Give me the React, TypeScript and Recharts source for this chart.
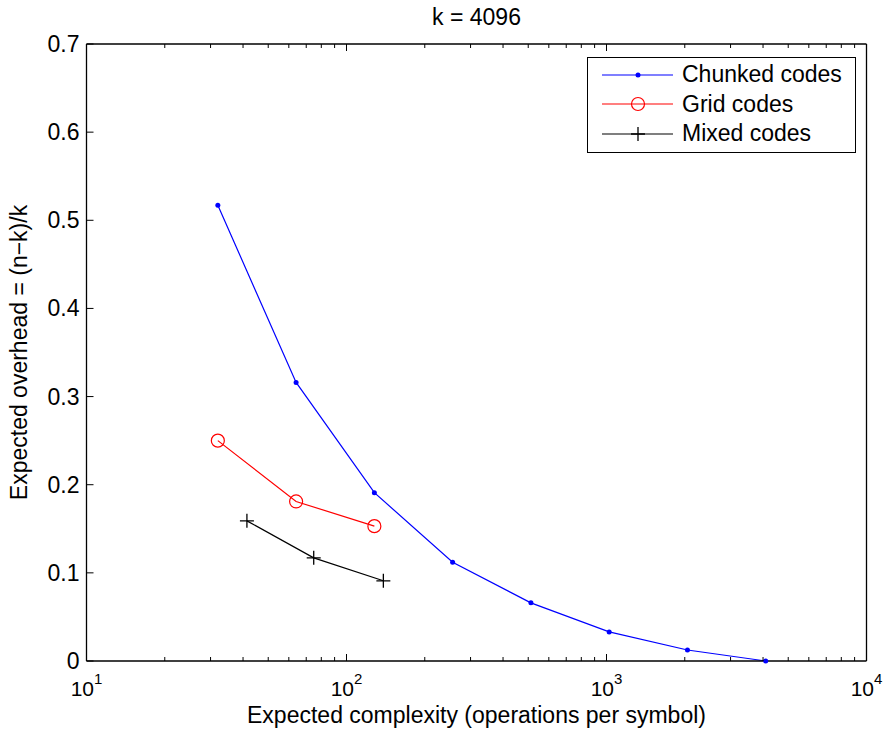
import React from "react";
import { LineChart, Line, XAxis, YAxis, Label, Legend } from "recharts";

const FONT = "'Liberation Sans', Arial, Helvetica, sans-serif";

// series values
const CHUNKED_X = [32, 64, 128, 256, 512, 1024, 2048, 4096];
const CHUNKED_Y = [0.517, 0.316, 0.191, 0.112, 0.066, 0.033, 0.0125, 0.0];
const GRID_X = [32, 64, 128];
const GRID_Y = [0.25, 0.181, 0.153];
const MIXED_X = [41.4, 74.8, 138.6];
const MIXED_Y = [0.159, 0.117, 0.091];

// axes
const X_MAJOR = [10, 100, 1000, 10000];
const X_EXPONENTS = ["1", "2", "3", "4"];
const X_TICKS = [
  10, 20, 30, 40, 50, 60, 70, 80, 90,
  100, 200, 300, 400, 500, 600, 700, 800, 900,
  1000, 2000, 3000, 4000, 5000, 6000, 7000, 8000, 9000,
  10000,
];
const Y_TICKS = [0, 0.1, 0.2, 0.3, 0.4, 0.5, 0.6, 0.7];
const Y_LABELS = ["0", "0.1", "0.2", "0.3", "0.4", "0.5", "0.6", "0.7"];

const TITLE = "k = 4096";
const X_LABEL = "Expected complexity (operations per symbol)";
const Y_LABEL = "Expected overhead = (n\u2212k)/k";

const toPoints = (xs: number[], ys: number[]) => xs.map((x, i) => ({ x, y: ys[i] }));

const SERIES = [
  { name: "Chunked codes", color: "#0000ff", marker: "dot", data: toPoints(CHUNKED_X, CHUNKED_Y) },
  { name: "Grid codes", color: "#ff0000", marker: "circle", data: toPoints(GRID_X, GRID_Y) },
  { name: "Mixed codes", color: "#000000", marker: "plus", data: toPoints(MIXED_X, MIXED_Y) },
];

function renderPlus(props: any) {
  const { cx, cy, index } = props;
  if (cx == null || cy == null) return <g key={`e-${index}`} />;
  return (
    <path
      key={`plus-${index}`}
      d={`M${cx - 7},${cy}H${cx + 7}M${cx},${cy - 7}V${cy + 7}`}
      stroke="#000"
      strokeWidth={1.3}
      fill="none"
    />
  );
}

function BottomTick(props: any) {
  const { x, y, payload } = props;
  const idx = X_MAJOR.indexOf(payload.value);
  const major = idx >= 0;
  return (
    <g>
      <line x1={x} y1={y} x2={x} y2={y - (major ? 7 : 4)} stroke="#000" strokeWidth={1} />
      {major && (
        <text x={x} y={y + 35} textAnchor="middle" fontFamily={FONT} fontSize={21} fill="#000">
          10
          <tspan dy={-12} fontSize={15}>{X_EXPONENTS[idx]}</tspan>
        </text>
      )}
    </g>
  );
}

function TopTick(props: any) {
  const { x, y, payload } = props;
  const major = X_MAJOR.includes(payload.value);
  return <line x1={x} y1={y} x2={x} y2={y + (major ? 7 : 4)} stroke="#000" strokeWidth={1} />;
}

function LeftTick(props: any) {
  const { x, y, payload, index } = props;
  const label = Y_LABELS[index] ?? String(payload.value);
  return (
    <g>
      <line x1={x} y1={y} x2={x + 7} y2={y} stroke="#000" strokeWidth={1} />
      <text x={x - 7} y={y + 8} textAnchor="end" fontFamily={FONT} fontSize={23} fill="#000">
        {label}
      </text>
    </g>
  );
}

function RightTick(props: any) {
  const { x, y } = props;
  return <line x1={x} y1={y} x2={x - 7} y2={y} stroke="#000" strokeWidth={1} />;
}

function LegendSample({ color, marker }: { color: string; marker: string }) {
  return (
    <svg width={72} height={20} style={{ display: "block" }}>
      <line x1={0} y1={10} x2={71} y2={10} stroke={color} strokeWidth={1.2} />
      {marker === "dot" && <circle cx={36} cy={10} r={2.5} fill={color} />}
      {marker === "circle" && <circle cx={36} cy={10} r={6.5} fill="none" stroke={color} strokeWidth={1.2} />}
      {marker === "plus" && (
        <path d="M29,10H43M36,3V17" stroke={color} strokeWidth={1.3} fill="none" />
      )}
    </svg>
  );
}

function LegendBox() {
  return (
    <div
      style={{
        border: "1.3px solid #000",
        background: "#fff",
        padding: "2px 0 4px 14px",
        fontFamily: FONT,
        fontSize: 23,
        boxSizing: "border-box",
        width: 269,
        height: 96,
      }}
    >
      {SERIES.map((s) => (
        <div key={s.name} style={{ display: "flex", alignItems: "center", height: 29.5 }}>
          <LegendSample color={s.color} marker={s.marker} />
          <span style={{ marginLeft: 8, lineHeight: "29px" }}>{s.name}</span>
        </div>
      ))}
    </div>
  );
}

export default function App() {
  return (
    <div style={{ position: "absolute", left: 0, top: 0, width: 886, height: 732, background: "#fff" }}>
      <LineChart width={886} height={732} margin={{ top: 0, right: 0, bottom: 0, left: 0 }}>
        <XAxis
          xAxisId="bottom"
          dataKey="x"
          type="number"
          scale="log"
          domain={[10, 10000]}
          allowDataOverflow
          ticks={X_TICKS}
          interval={0}
          orientation="bottom"
          height={71}
          tickSize={0}
          tickMargin={0}
          tickLine={false}
          tick={<BottomTick />}
          axisLine={{ stroke: "#000", strokeWidth: 1.3 }}
        >
          <Label
            value={X_LABEL}
            position="insideBottom"
            offset={9}
            style={{ fontFamily: FONT, fontSize: 23, fill: "#000" }}
          />
        </XAxis>
        <XAxis
          xAxisId="top"
          dataKey="x"
          type="number"
          scale="log"
          domain={[10, 10000]}
          allowDataOverflow
          ticks={X_TICKS}
          interval={0}
          orientation="top"
          height={44}
          tickSize={0}
          tickMargin={0}
          tickLine={false}
          tick={<TopTick />}
          axisLine={{ stroke: "#000", strokeWidth: 1.3 }}
        >
          <Label
            value={TITLE}
            position="insideTop"
            offset={9}
            style={{ fontFamily: FONT, fontSize: 23, fill: "#000" }}
          />
        </XAxis>
        <YAxis
          yAxisId="left"
          type="number"
          domain={[0, 0.7]}
          ticks={Y_TICKS}
          interval={0}
          orientation="left"
          width={86.5}
          tickSize={0}
          tickMargin={0}
          tickLine={false}
          tick={<LeftTick />}
          axisLine={{ stroke: "#000", strokeWidth: 1.3 }}
        >
          <Label
            value={Y_LABEL}
            angle={-90}
            position="insideLeft"
            offset={19}
            style={{ fontFamily: FONT, fontSize: 23, fill: "#000", textAnchor: "middle" }}
          />
        </YAxis>
        <YAxis
          yAxisId="right"
          type="number"
          domain={[0, 0.7]}
          ticks={Y_TICKS}
          interval={0}
          orientation="right"
          width={19.5}
          tickSize={0}
          tickMargin={0}
          tickLine={false}
          tick={<RightTick />}
          axisLine={{ stroke: "#000", strokeWidth: 1.3 }}
        />
        <Legend
          verticalAlign="middle"
          align="center"
          layout="horizontal"
          wrapperStyle={{ left: 587, top: 57, width: 269 }}
          content={() => <LegendBox />}
        />
        <Line
          xAxisId="bottom"
          yAxisId="left"
          data={SERIES[0].data}
          dataKey="y"
          name={SERIES[0].name}
          stroke={SERIES[0].color}
          strokeWidth={1.2}
          dot={{ r: 2.5, fill: SERIES[0].color, stroke: SERIES[0].color, strokeWidth: 0 }}
          activeDot={false}
          isAnimationActive={false}
        />
        <Line
          xAxisId="bottom"
          yAxisId="left"
          data={SERIES[1].data}
          dataKey="y"
          name={SERIES[1].name}
          stroke={SERIES[1].color}
          strokeWidth={1.2}
          dot={{ r: 6.5, fill: "none", stroke: SERIES[1].color, strokeWidth: 1.2 }}
          activeDot={false}
          isAnimationActive={false}
        />
        <Line
          xAxisId="bottom"
          yAxisId="left"
          data={SERIES[2].data}
          dataKey="y"
          name={SERIES[2].name}
          stroke={SERIES[2].color}
          strokeWidth={1.2}
          dot={renderPlus}
          activeDot={false}
          isAnimationActive={false}
        />
      </LineChart>
    </div>
  );
}
